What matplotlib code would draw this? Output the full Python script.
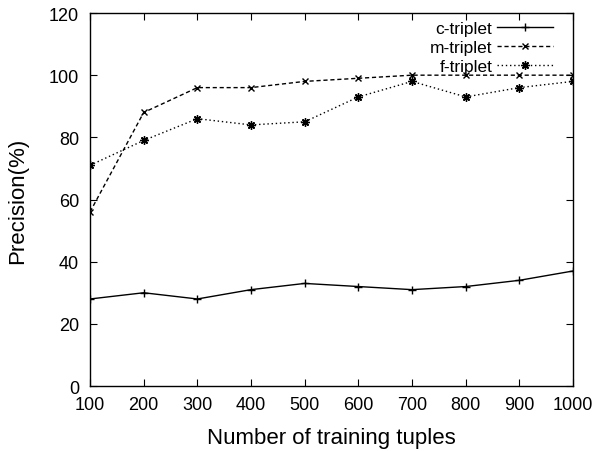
import matplotlib
matplotlib.use("Agg")
import matplotlib.pyplot as plt

plt.rcParams['font.family'] = ['Liberation Sans', 'DejaVu Sans']

x = [100, 200, 300, 400, 500, 600, 700, 800, 900, 1000]
c_triplet = [28, 30, 28, 31, 33, 32, 31, 32, 34, 37]
m_triplet = [56, 88, 96, 96, 98, 99, 100, 100, 100, 100]
f_triplet = [71, 79, 86, 84, 85, 93, 98, 93, 96, 98]
yticks = [0, 20, 40, 60, 80, 100, 120]

fig = plt.figure(figsize=(5.97, 4.52), dpi=100)
ax = fig.add_axes([0.1508, 0.1438, 0.809, 0.8252])

ax.plot(x, c_triplet, color='black', lw=1.0, ls='-', marker='+', ms=6, mew=1.0, label='c-triplet')
ax.plot(x, m_triplet, color='black', lw=1.0, ls=(0, (3, 2)), marker='x', ms=5, mew=1.0, label='m-triplet')
ax.plot(x, f_triplet, color='black', lw=1.0, ls=(0, (1, 2)), marker=(8, 2, 0), ms=6, mew=1.0, label='f-triplet')

ax.set_xlim(100, 1000)
ax.set_ylim(0, 120)
ax.set_xticks(x)
ax.set_yticks(yticks)
ax.tick_params(direction='in', top=True, right=True, length=5, width=0.8, labelsize=13)
ax.tick_params(axis='x', pad=7)
ax.tick_params(axis='y', pad=8)
for s in ax.spines.values():
    s.set_linewidth(1.0)
ax.set_xlabel('Number of training tuples', fontsize=16, labelpad=10)
ax.set_ylabel('Precision(%)', fontsize=16, labelpad=15)

leg = ax.legend(loc='upper right', bbox_to_anchor=(0.9586, 0.978), frameon=False,
                markerfirst=False, fontsize=12.5,
                handlelength=3.2, handletextpad=0.3, labelspacing=0.2,
                borderaxespad=0.0, borderpad=0.0)
for t in leg.get_texts():
    t.set_ha('right')

fig.savefig('out.png', dpi=100)
